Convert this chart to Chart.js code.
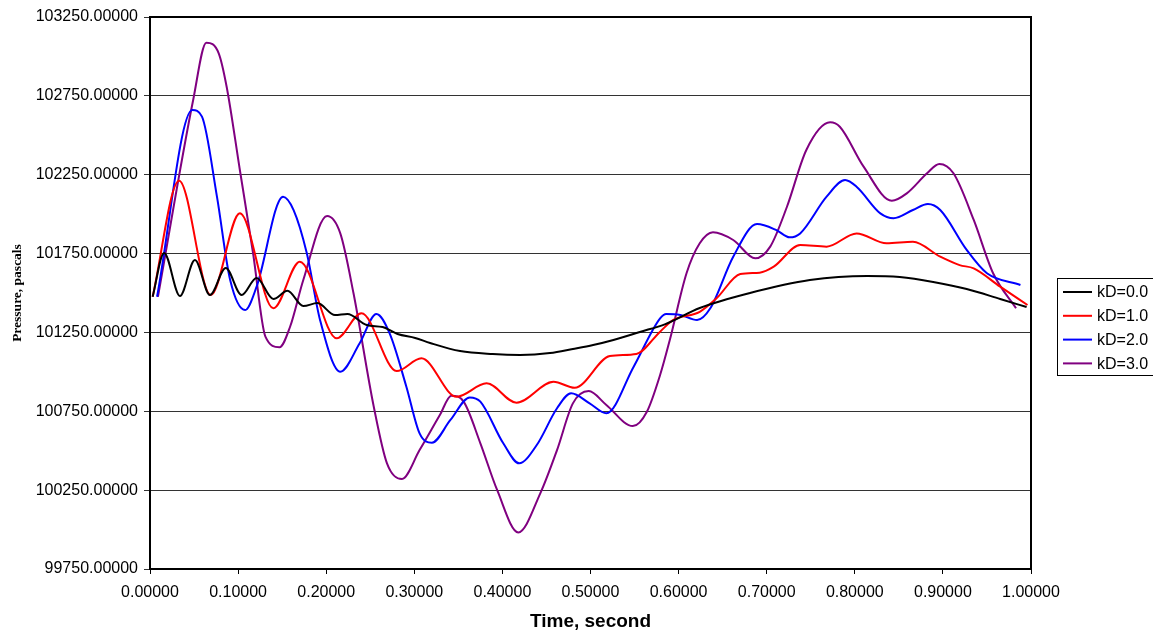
<!DOCTYPE html>
<html>
<head>
<meta charset="utf-8">
<script src="https://cdn.jsdelivr.net/npm/chart.js@4"></script>
<style>
  body { margin: 0; background: #fff; }
  canvas { display: block; }
</style>
</head>
<body>
<canvas id="myChart" width="1153" height="634"></canvas>
<script>
// kD=0.0
let t0 = [0.003, 0.016, 0.034, 0.051, 0.068, 0.086, 0.104, 0.121, 0.140, 0.156, 0.174, 0.190, 0.210, 0.224, 0.246, 0.264, 0.281, 0.301, 0.318, 0.352, 0.389, 0.420, 0.454, 0.480, 0.503, 0.526, 0.556, 0.585, 0.624, 0.681, 0.749, 0.814, 0.851, 0.889, 0.927, 0.965, 0.995];
let p0 = [101476, 101754, 101481, 101709, 101487, 101658, 101487, 101595, 101462, 101514, 101417, 101436, 101360, 101367, 101297, 101284, 101240, 101215, 101183, 101132, 101113, 101107, 101119, 101145, 101170, 101202, 101253, 101303, 101405, 101500, 101582, 101608, 101601, 101570, 101525, 101462, 101411];

// kD=1.0
let t1 = [0.003, 0.033, 0.069, 0.102, 0.140, 0.170, 0.212, 0.240, 0.280, 0.308, 0.348, 0.382, 0.416, 0.458, 0.482, 0.522, 0.552, 0.579, 0.594, 0.624, 0.643, 0.670, 0.692, 0.708, 0.738, 0.768, 0.802, 0.836, 0.866, 0.897, 0.919, 0.935, 0.965, 0.996];
let p1 = [101476, 102212, 101487, 102005, 101403, 101698, 101213, 101371, 101005, 101086, 100842, 100927, 100804, 100937, 100899, 101100, 101113, 101255, 101329, 101381, 101466, 101620, 101629, 101667, 101804, 101794, 101878, 101815, 101825, 101730, 101677, 101656, 101540, 101424];

// kD=2.0
let t2 = [0.008, 0.048, 0.059, 0.076, 0.091, 0.108, 0.121, 0.151, 0.163, 0.178, 0.193, 0.216, 0.238, 0.257, 0.272, 0.291, 0.306, 0.320, 0.341, 0.363, 0.375, 0.401, 0.419, 0.439, 0.462, 0.478, 0.499, 0.518, 0.549, 0.579, 0.586, 0.602, 0.621, 0.636, 0.662, 0.689, 0.711, 0.726, 0.738, 0.768, 0.789, 0.802, 0.829, 0.844, 0.866, 0.883, 0.897, 0.927, 0.950, 0.988];
let p2 = [101476, 102660, 102618, 102111, 101582, 101392, 101540, 102111, 102026, 101752, 101329, 101001, 101181, 101367, 101244, 100906, 100610, 100551, 100695, 100838, 100811, 100547, 100420, 100536, 100769, 100864, 100800, 100737, 101033, 101339, 101367, 101361, 101329, 101403, 101730, 101937, 101899, 101853, 101878, 102111, 102216, 102174, 102005, 101974, 102026, 102064, 102026, 101773, 101625, 101551];

// kD=3.0
let t3 = [0.009, 0.049, 0.064, 0.078, 0.087, 0.102, 0.117, 0.131, 0.147, 0.159, 0.174, 0.201, 0.216, 0.231, 0.254, 0.269, 0.286, 0.306, 0.329, 0.342, 0.356, 0.375, 0.394, 0.418, 0.443, 0.462, 0.480, 0.498, 0.518, 0.548, 0.564, 0.579, 0.590, 0.609, 0.624, 0.639, 0.662, 0.687, 0.704, 0.723, 0.745, 0.772, 0.783, 0.810, 0.842, 0.859, 0.882, 0.896, 0.912, 0.935, 0.957, 0.983];
let p3 = [101476, 102724, 103087, 103020, 102808, 102280, 101752, 101223, 101156, 101286, 101582, 101988, 101878, 101498, 100779, 100420, 100321, 100504, 100726, 100849, 100811, 100547, 100251, 99982, 100230, 100504, 100800, 100878, 100790, 100656, 100747, 100980, 101202, 101625, 101815, 101885, 101836, 101720, 101794, 102047, 102407, 102582, 102554, 102301, 102085, 102132, 102259, 102318, 102259, 101963, 101625, 101403];

let seriesNames = ["kD=0.0", "kD=1.0", "kD=2.0", "kD=3.0"];
let seriesColors = ["#000000", "#ff0000", "#0000ff", "#800080"];
let yTicks = [99750, 100250, 100750, 101250, 101750, 102250, 102750, 103250];

function pts(t, p) {
    return t.map(function (v, i) { return { x: v, y: p[i] }; });
}

let allT = [t0, t1, t2, t3];
let allP = [p0, p1, p2, p3];

let datasets = seriesNames.map(function (name, i) {
    return {
        label: name,
        data: pts(allT[i], allP[i]),
        borderColor: seriesColors[i],
        backgroundColor: seriesColors[i],
        borderWidth: 2,
        pointRadius: 0,
        showLine: true,
        cubicInterpolationMode: "monotone"
    };
});

// frame on top / right, and boxed legend on the right
let framePlugin = {
    id: "frame",
    afterDraw: function (chart) {
        let ctx = chart.ctx;
        let a = chart.chartArea;
        ctx.save();
        ctx.strokeStyle = "#000";
        ctx.lineWidth = 2;
        ctx.beginPath();
        ctx.moveTo(a.left, a.top);
        ctx.lineTo(a.right, a.top);
        ctx.lineTo(a.right, a.bottom);
        ctx.stroke();

        // legend
        ctx.lineWidth = 1;
        ctx.strokeRect(1057.5, 278.5, 100, 97);
        ctx.font = "16px 'Liberation Sans', Arial, sans-serif";
        ctx.textBaseline = "middle";
        ctx.textAlign = "left";
        for (let i = 0; i < seriesNames.length; i++) {
            let y = 292 + i * 23.8;
            ctx.strokeStyle = seriesColors[i];
            ctx.lineWidth = 2;
            ctx.beginPath();
            ctx.moveTo(1063, y);
            ctx.lineTo(1092, y);
            ctx.stroke();
            ctx.fillStyle = "#000";
            ctx.fillText(seriesNames[i], 1097, y + 1);
        }
        ctx.restore();
    }
};

let ctx = document.getElementById("myChart").getContext("2d");

new Chart(ctx, {
    type: "scatter",
    data: { datasets: datasets },
    options: {
        responsive: false,
        animation: false,
        devicePixelRatio: 1,
        layout: { padding: { left: 0, top: 17, right: 122, bottom: 0 } },
        plugins: {
            legend: { display: false },
            tooltip: { enabled: false }
        },
        scales: {
            x: {
                type: "linear",
                min: 0,
                max: 1,
                afterFit: function (scale) { scale.height = 65; },
                ticks: {
                    stepSize: 0.1,
                    maxRotation: 0,
                    padding: 9,
                    color: "#000",
                    font: { family: "'Liberation Sans', Arial, sans-serif", size: 16 },
                    callback: function (v) { return v.toFixed(5); }
                },
                grid: { drawOnChartArea: false, drawTicks: true, tickLength: 5, color: "#000" },
                border: { color: "#000", width: 2 },
                title: {
                    display: true,
                    text: "Time, second",
                    color: "#000",
                    padding: { top: 4, bottom: 1 },
                    font: { family: "'Liberation Sans', Arial, sans-serif", size: 19, weight: "bold" }
                }
            },
            y: {
                type: "linear",
                min: 99750,
                max: 103250,
                afterFit: function (scale) { scale.width = 150; },
                afterBuildTicks: function (scale) {
                    scale.ticks = yTicks.map(function (v) { return { value: v }; });
                },
                ticks: {
                    padding: 6,
                    color: "#000",
                    font: { family: "'Liberation Sans', Arial, sans-serif", size: 16 },
                    callback: function (v) { return Number(v).toFixed(5); }
                },
                grid: { color: "#333", lineWidth: 1, drawTicks: true, tickLength: 6 },
                border: { color: "#000", width: 2 },
                title: {
                    display: true,
                    text: "Pressure, pascals",
                    color: "#000",
                    padding: { top: 9, bottom: 0 },
                    font: { family: "'Liberation Serif', 'Times New Roman', serif", size: 13.5, weight: "bold" }
                }
            }
        }
    },
    plugins: [framePlugin]
});
</script>
</body>
</html>
